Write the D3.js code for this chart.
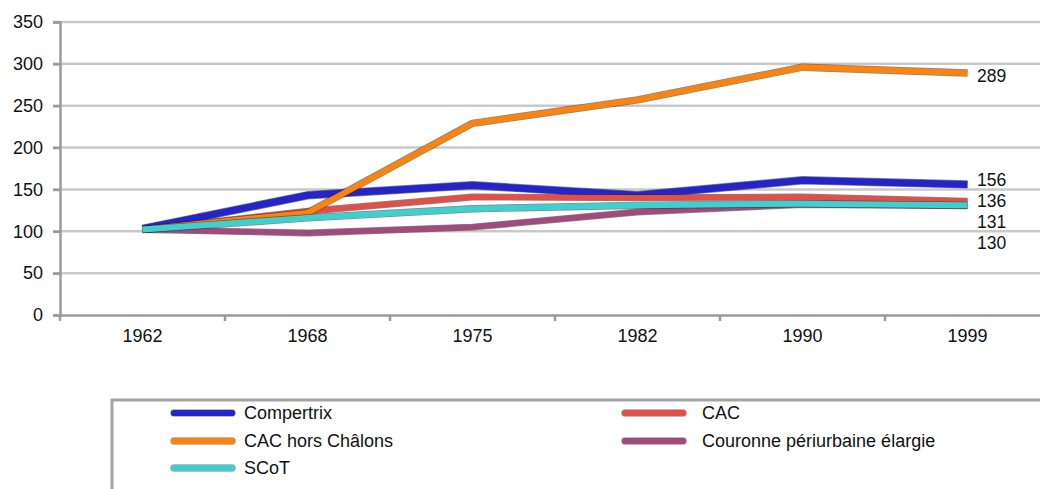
<!DOCTYPE html>
<html><head><meta charset="utf-8">
<script src="https://cdn.jsdelivr.net/npm/d3@7"></script>
<style>
body{margin:0;background:#fff;}
text{font-family:"Liberation Sans",Arial,sans-serif;fill:#111;}
</style></head>
<body>
<svg id="c" width="1040" height="489"></svg>
<script>
const years = ["1962","1968","1975","1982","1990","1999"];
const yTicks = [0,50,100,150,200,250,300,350];
const seriesNames = ["Compertrix","Couronne périurbaine élargie","CAC","CAC hors Châlons","SCoT"];
const compertrix = [103,143,155,143,161,156];
const couronne   = [102,98,105,123,132,130.5];
const cac        = [102,124,141,140,141,136];
const cacHors    = [102,122,229,257,296,289];
const scot       = [102,116,127,131,133,131];
const endLabels  = [289,156,136,131,130];
const legendOrder = ["Compertrix","CAC","CAC hors Châlons","Couronne périurbaine élargie","SCoT"];

const colors = {"Compertrix":"#2424c9","Couronne périurbaine élargie":"#a14a7e","CAC":"#e24e48","CAC hors Châlons":"#fb8310","SCoT":"#3fcfcf"};
const widths = {"Compertrix":7,"Couronne périurbaine élargie":5.5,"CAC":5.5,"CAC hors Châlons":6,"SCoT":6};
const valuesBy = {"Compertrix":compertrix,"Couronne périurbaine élargie":couronne,"CAC":cac,"CAC hors Châlons":cacHors,"SCoT":scot};

const svg = d3.select("#c");
const x = d3.scaleBand().domain(years).range([60,1050]).padding(0);
const y = d3.scaleLinear().domain([0,350]).range([315,22]);

// gridlines
svg.append("g").selectAll("line").data(yTicks.filter(d=>d>0)).join("line")
  .attr("x1",53).attr("x2",1040).attr("y1",d=>y(d)).attr("y2",d=>y(d))
  .attr("stroke","#c9c9c9").attr("stroke-width",2.5);

// y axis
const ya = svg.append("g").attr("transform","translate(60,0)")
  .call(d3.axisLeft(y).tickValues(yTicks).tickSize(7).tickPadding(10));
ya.select(".domain").attr("stroke","#9a9a9a").attr("stroke-width",2.5);
ya.selectAll(".tick line").attr("stroke","#9a9a9a").attr("stroke-width",2.5);
ya.selectAll("text").attr("font-size","18px").attr("fill","#111").attr("font-family","Liberation Sans, Arial, sans-serif");

// x axis
const xa = svg.append("g").attr("transform","translate(0,315)")
  .call(d3.axisBottom(x).tickSize(0).tickPadding(14));
xa.select(".domain").attr("stroke","#9a9a9a").attr("stroke-width",2.5);
xa.selectAll("text").attr("font-size","18px").attr("fill","#111").attr("font-family","Liberation Sans, Arial, sans-serif");
svg.append("g").selectAll("line").data(years).join("line")
  .attr("x1",d=>x(d)).attr("x2",d=>x(d)).attr("y1",315).attr("y2",321)
  .attr("stroke","#9a9a9a").attr("stroke-width",2.5);

// lines
const line = d3.line().x((d,i)=>x(years[i])+x.bandwidth()/2).y(d=>y(d));
const lg = svg.append("g");
seriesNames.forEach(n=>{
  lg.append("path").attr("d",line(valuesBy[n])).attr("fill","none")
    .attr("stroke","#222").attr("stroke-opacity",0.55).attr("stroke-width",widths[n]+1.4)
    .attr("stroke-linejoin","round");
  lg.append("path").attr("d",line(valuesBy[n])).attr("fill","none")
    .attr("stroke",colors[n]).attr("stroke-width",widths[n])
    .attr("stroke-linejoin","round");
});

// end labels, stacked to avoid overlap
let prev = -Infinity;
const lab = endLabels.map((v,i)=>{ let p = i===0 ? y(v)+3 : Math.max(y(v)-5, prev+21); prev = p; return {v,p}; });
svg.append("g").selectAll("text").data(lab).join("text")
  .attr("x",977).attr("y",d=>d.p).attr("dy","0.36em")
  .attr("font-size","17.5px").text(d=>d.v);

// legend
svg.append("rect").attr("x",112).attr("y",400).attr("width",1000).attr("height",120)
  .attr("fill","none").attr("stroke","#a3a3a3").attr("stroke-width",3);
const colX = [172,623], rowY = [413,441,468];
const leg = svg.append("g").selectAll("g").data(legendOrder).join("g")
  .attr("transform",(d,i)=>`translate(${colX[i%2]},${rowY[Math.floor(i/2)]})`);
leg.append("line").attr("x1",2).attr("x2",60).attr("y1",0).attr("y2",0)
  .attr("stroke","#333").attr("stroke-width",7.5).attr("stroke-linecap","round").attr("stroke-opacity",0.45);
leg.append("line").attr("x1",2).attr("x2",60).attr("y1",0).attr("y2",0)
  .attr("stroke",d=>colors[d]).attr("stroke-width",6.2).attr("stroke-linecap","round");
leg.append("text").attr("x",(d,i)=>i%2?79:72).attr("y",0).attr("dy","0.33em")
  .attr("font-size","18px").text(d=>d);
</script>
</body></html>
